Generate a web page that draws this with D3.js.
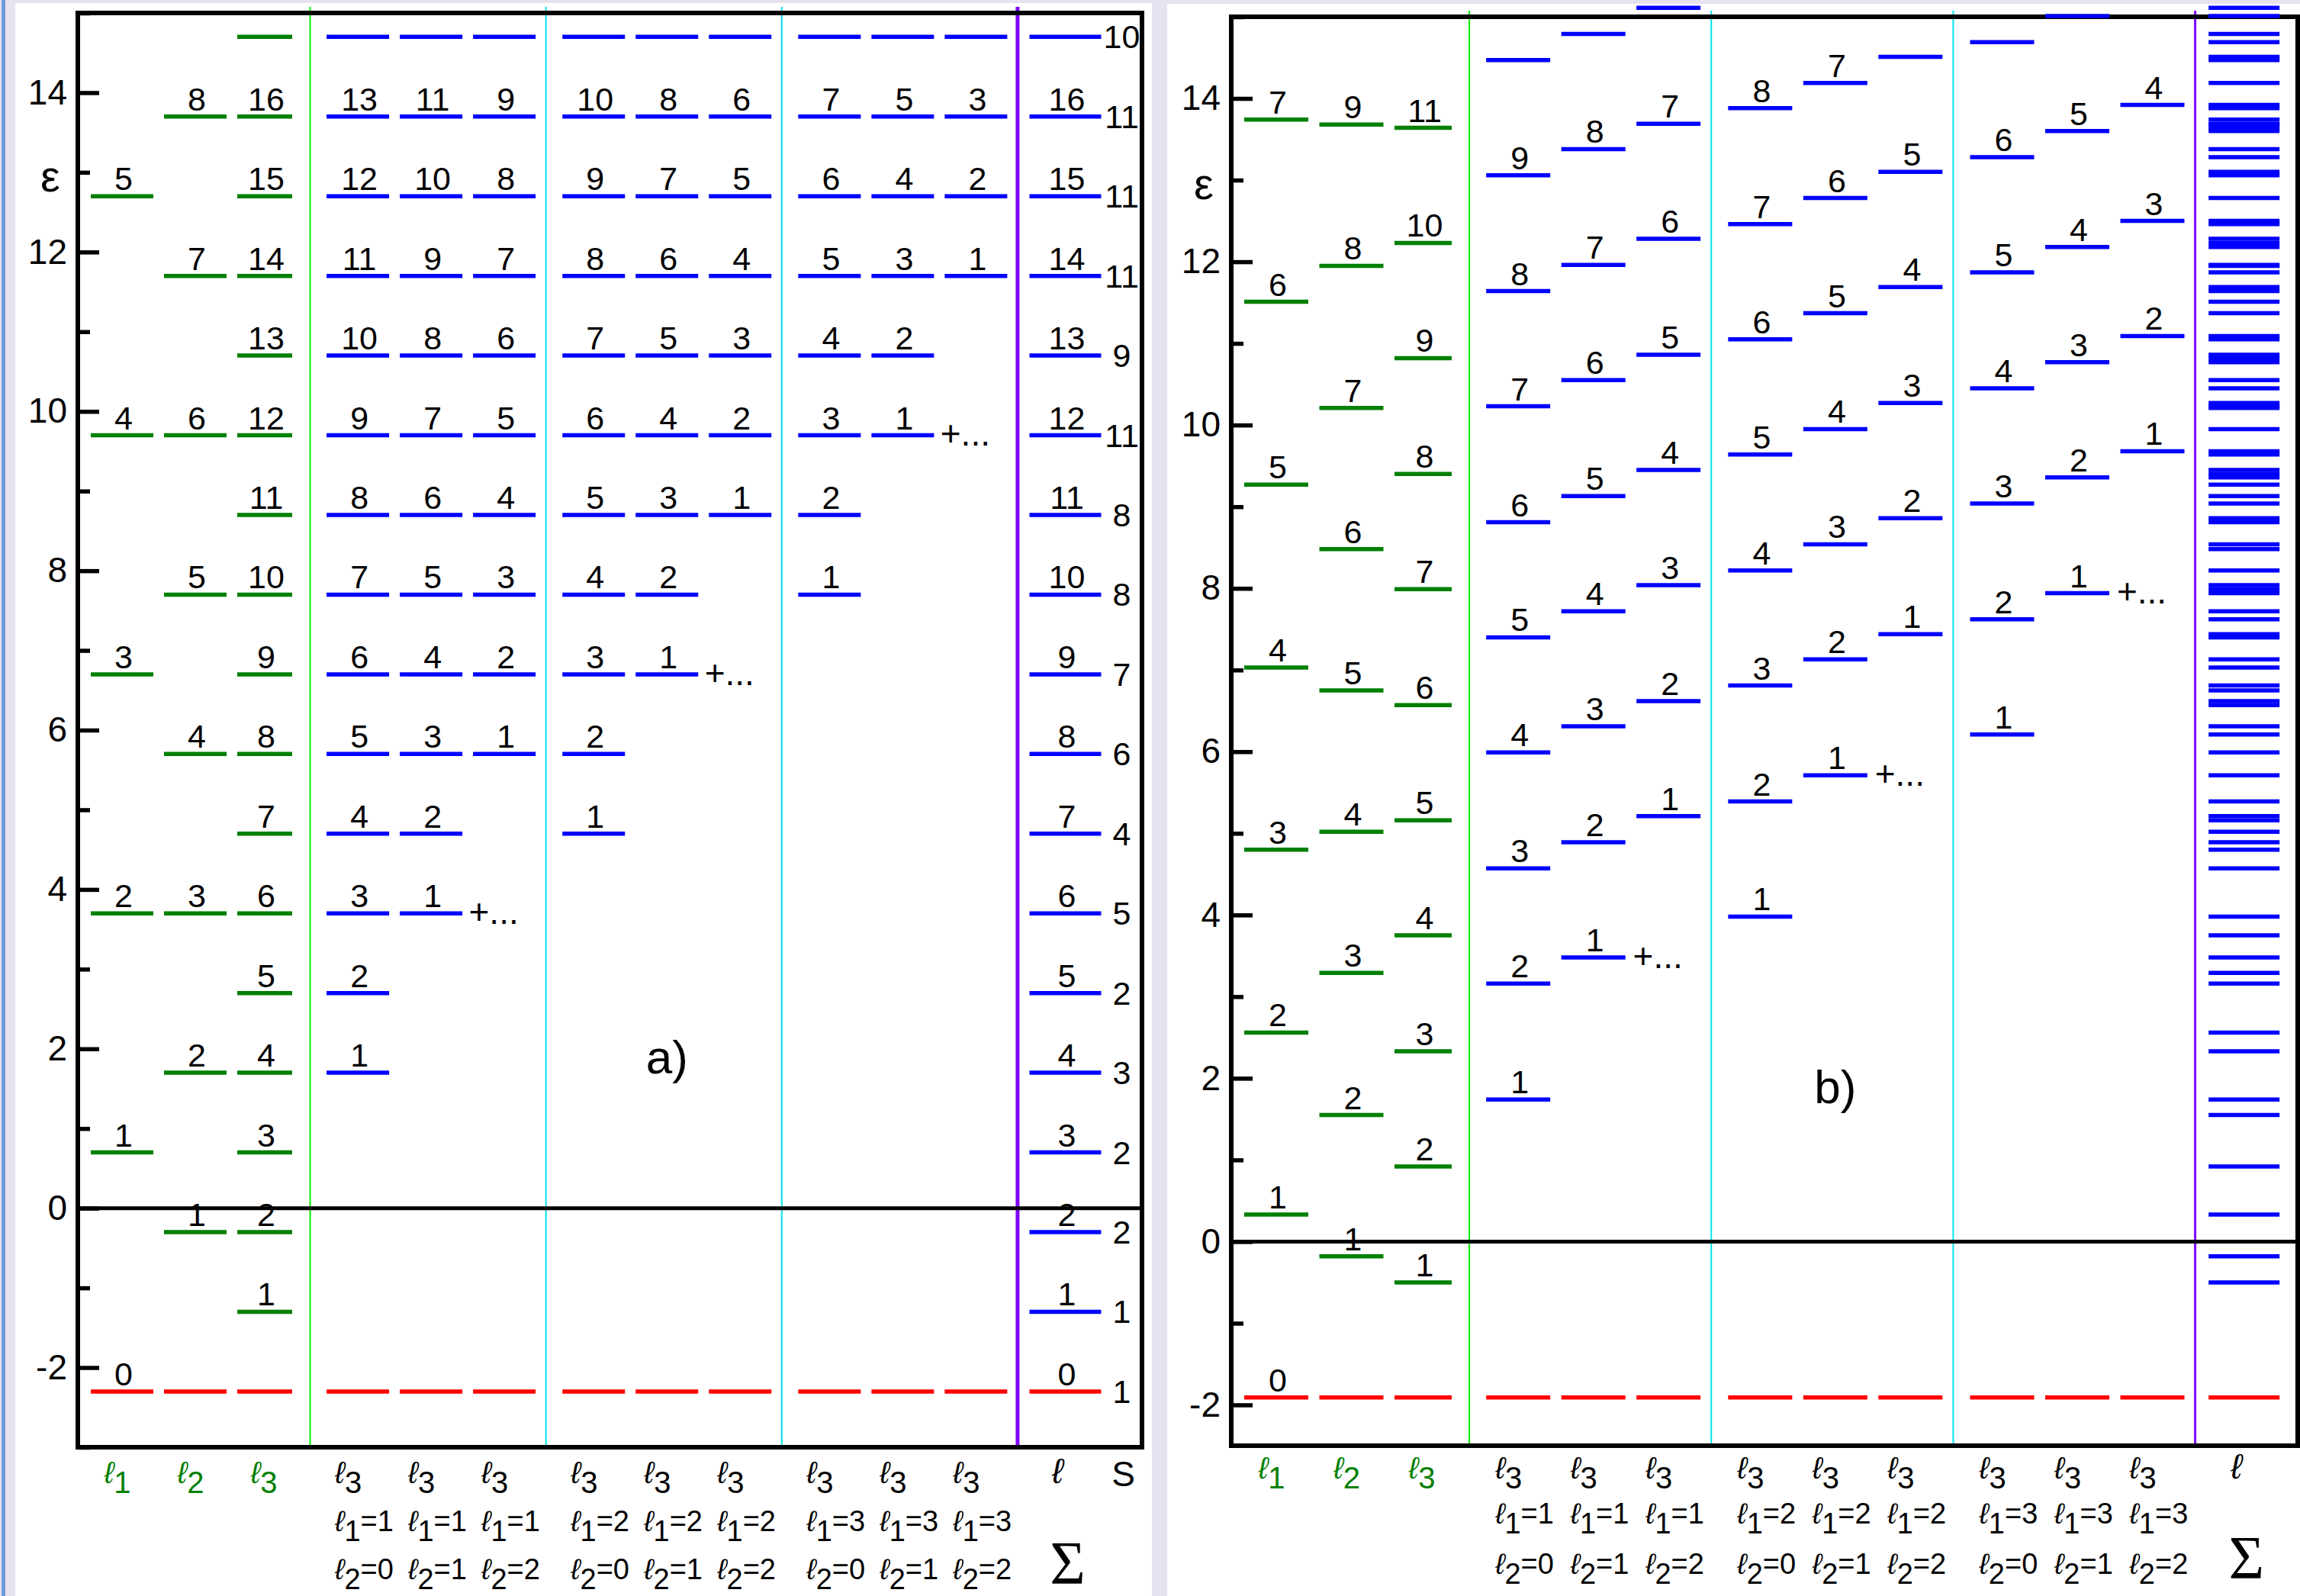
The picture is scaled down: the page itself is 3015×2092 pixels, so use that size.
<!DOCTYPE html>
<html>
<head>
<meta charset="utf-8">
<script src="https://cdn.jsdelivr.net/npm/d3@7"></script>
<style>
  body { margin: 0; background: #e6e2ef; }
  svg { display: block; font-family: "Liberation Sans", Arial, sans-serif; }
</style>
</head>
<body>
<div id="chart"></div>
<script>
// ---- panel a) : level energies per column (index 0 = ground state) ----
const aEps_l1 = [-2.3, 0.7, 3.7, 6.7, 9.7, 12.7];
const aEps_l2 = [-2.3, -0.3, 1.7, 3.7, 5.7, 7.7, 9.7, 11.7, 13.7];
const aEps_l3 = [-2.3, -1.3, -0.3, 0.7, 1.7, 2.7, 3.7, 4.7, 5.7, 6.7, 7.7, 8.7, 9.7, 10.7, 11.7, 12.7, 13.7, 14.7];
const aEps_10 = [-2.3, 1.7, 2.7, 3.7, 4.7, 5.7, 6.7, 7.7, 8.7, 9.7, 10.7, 11.7, 12.7, 13.7, 14.7];
const aEps_11 = [-2.3, 3.7, 4.7, 5.7, 6.7, 7.7, 8.7, 9.7, 10.7, 11.7, 12.7, 13.7, 14.7];
const aEps_12 = [-2.3, 5.7, 6.7, 7.7, 8.7, 9.7, 10.7, 11.7, 12.7, 13.7, 14.7];
const aEps_20 = [-2.3, 4.7, 5.7, 6.7, 7.7, 8.7, 9.7, 10.7, 11.7, 12.7, 13.7, 14.7];
const aEps_21 = [-2.3, 6.7, 7.7, 8.7, 9.7, 10.7, 11.7, 12.7, 13.7, 14.7];
const aEps_22 = [-2.3, 8.7, 9.7, 10.7, 11.7, 12.7, 13.7, 14.7];
const aEps_30 = [-2.3, 7.7, 8.7, 9.7, 10.7, 11.7, 12.7, 13.7, 14.7];
const aEps_31 = [-2.3, 9.7, 10.7, 11.7, 12.7, 13.7, 14.7];
const aEps_32 = [-2.3, 11.7, 12.7, 13.7, 14.7];
const aEps_sum = [-2.3, -1.3, -0.3, 0.7, 1.7, 2.7, 3.7, 4.7, 5.7, 6.7, 7.7, 8.7, 9.7, 10.7, 11.7, 12.7, 13.7, 14.7];
const aDegeneracy = [1, 1, 2, 2, 3, 2, 5, 4, 6, 7, 8, 8, 11, 9, 11, 11, 11, 10];

// ---- panel b) ----
const bEps_l1 = [-1.91, 0.33, 2.56, 4.80, 7.03, 9.27, 11.51, 13.74];
const bEps_l2 = [-1.91, -0.18, 1.55, 3.29, 5.02, 6.75, 8.48, 10.21, 11.95, 13.68];
const bEps_l3 = [-1.91, -0.50, 0.92, 2.33, 3.75, 5.16, 6.57, 7.99, 9.40, 10.82, 12.23, 13.64];
const bEps_10 = [-1.91, 1.74, 3.16, 4.57, 5.99, 7.40, 8.81, 10.23, 11.64, 13.06, 14.47];
const bEps_11 = [-1.91, 3.48, 4.89, 6.31, 7.72, 9.13, 10.55, 11.96, 13.38, 14.79];
const bEps_12 = [-1.91, 5.21, 6.62, 8.04, 9.45, 10.86, 12.28, 13.69, 15.11];
const bEps_20 = [-1.91, 3.98, 5.39, 6.81, 8.22, 9.64, 11.05, 12.46, 13.88];
const bEps_21 = [-1.91, 5.71, 7.13, 8.54, 9.95, 11.37, 12.78, 14.19];
const bEps_22 = [-1.91, 7.44, 8.86, 10.27, 11.69, 13.10, 14.51];
const bEps_30 = [-1.91, 6.21, 7.62, 9.04, 10.45, 11.87, 13.28, 14.69];
const bEps_31 = [-1.91, 7.94, 9.36, 10.77, 12.18, 13.60, 15.01];
const bEps_32 = [-1.91, 9.68, 11.09, 12.50, 13.92];
// the sum column of b) is every level of the other columns together
const bEps_sum = Array.from(new Set([bEps_l1, bEps_l2, bEps_l3, bEps_10, bEps_11, bEps_12,
  bEps_20, bEps_21, bEps_22, bEps_30, bEps_31, bEps_32].flat())).sort((p, q) => p - q);

// ---- column captions ----
const colSub = ['1', '2', '3', '3', '3', '3', '3', '3', '3', '3', '3', '3', ''];
const colL1 = [null, null, null, 1, 1, 1, 2, 2, 2, 3, 3, 3, null];
const colL2 = [null, null, null, 0, 1, 2, 0, 1, 2, 0, 1, 2, null];

// "+..." marks: column index and energy
const aMoreCol = [5, 8, 11];
const aMoreEps = [3.7, 6.7, 9.7];
const bMoreCol = [5, 8, 11];
const bMoreEps = [3.48, 5.71, 7.94];

const majorTicks = [-2, 0, 2, 4, 6, 8, 10, 12, 14];
const minorTicksA = [-3, -1, 1, 3, 5, 7, 9, 11, 13, 15];
const minorTicksB = [-1, 1, 3, 5, 7, 9, 11, 13, 15];

const W = 3015, H = 2092;
const GREEN = '#008000', BLUE = '#0000ff', RED = '#ff0000';

const svg = d3.select('#chart').append('svg')
  .attr('width', W).attr('height', H)
  .attr('viewBox', [0, 0, W, H]);

svg.append('rect').attr('width', W).attr('height', H).attr('fill', '#e6e2ef');
svg.append('rect').attr('x', 2).attr('y', 0).attr('width', 5).attr('height', H).attr('fill', '#6d9bd9');
svg.append('rect').attr('x', 20).attr('y', 4).attr('width', 1490).attr('height', H - 4).attr('fill', '#fff');
svg.append('rect').attr('x', 1530).attr('y', 5).attr('width', W - 1530).attr('height', H - 5).attr('fill', '#fff');

function drawPanel(cfg) {
  const g = svg.append('g');
  const y = d3.scaleLinear().domain(cfg.domain).range([cfg.bottom, cfg.top]);

  // column slot -> pixel centre (3 single columns, 3 groups of 3, sum column)
  const groupOf = i => i < 3 ? 0 : (i < 12 ? 1 + Math.floor((i - 3) / 3) : 4);
  const x = d3.scaleLinear().domain([0, 1]).range([cfg.firstCenter, cfg.firstCenter + cfg.step]);
  const cx = i => x(i + 0.22 * groupOf(i));
  const left = i => cx(i) - (i === 12 ? cfg.sumHalf : cfg.half);
  const right = i => i === 2 ? left(i) + cfg.l3Width : cx(i) + (i === 12 ? cfg.sumHalf : cfg.half);

  // separators
  const seps = [
    { a: 2, color: '#00ee00', w: 2 },
    { a: 5, color: '#00e5ee', w: 2 },
    { a: 8, color: '#00e5ee', w: 2 },
    { a: 11, color: '#8000ff', w: cfg.purpleWidth }
  ];
  g.selectAll('line.sep').data(seps).join('line')
    .attr('class', 'sep')
    .attr('x1', d => (cx(d.a) + cx(d.a + 1)) / 2 - 4)
    .attr('x2', d => (cx(d.a) + cx(d.a + 1)) / 2 - 4)
    .attr('y1', cfg.top - 8).attr('y2', cfg.bottom)
    .attr('stroke', d => d.color).attr('stroke-width', d => d.w);

  // frame and zero line
  g.append('rect')
    .attr('x', cfg.x0).attr('y', cfg.top)
    .attr('width', cfg.x1 - cfg.x0).attr('height', cfg.bottom - cfg.top)
    .attr('fill', 'none').attr('stroke', '#000').attr('stroke-width', 6);
  g.append('line')
    .attr('x1', cfg.x0).attr('x2', cfg.x1)
    .attr('y1', y(0)).attr('y2', y(0))
    .attr('stroke', '#000').attr('stroke-width', 5);

  // axis: ticks point inwards, labels outside
  const major = g.append('g').attr('transform', `translate(${cfg.x0},0)`)
    .call(d3.axisLeft(y).tickValues(majorTicks).tickSize(-28).tickPadding(14).tickFormat(d => String(d)));
  const minor = g.append('g').attr('transform', `translate(${cfg.x0},0)`)
    .call(d3.axisLeft(y).tickValues(cfg.minor).tickSize(-16).tickFormat(''));
  [major, minor].forEach(ax => {
    ax.select('.domain').remove();
    ax.selectAll('.tick line').attr('stroke', '#000').attr('stroke-width', 5.5);
  });
  major.selectAll('.tick text')
    .attr('fill', '#000')
    .style('font-size', '46px')
    .style('font-family', '"Liberation Sans", Arial, sans-serif');

  g.append('text')
    .attr('x', cfg.x0 - 36).attr('y', y(13) + 10)
    .attr('text-anchor', 'middle').attr('dominant-baseline', 'middle')
    .style('font-size', '58px')
    .text('ε');

  // levels
  cfg.columns.forEach((levels, i) => {
    const col = g.append('g');
    col.selectAll('line').data(levels).join('line')
      .attr('x1', left(i)).attr('x2', right(i))
      .attr('y1', d => y(d)).attr('y2', d => y(d))
      .attr('stroke', (d, j) => j === 0 ? RED : (i < 3 ? GREEN : BLUE))
      .attr('stroke-width', 5.5);

    if (i === 12 && !cfg.sumLabels) return;
    const labelled = levels.map((e, j) => ({ e, j }))
      .filter(d => d.e < 14.3 && (d.j > 0 || i === 0 || i === 12));
    col.selectAll('text').data(labelled).join('text')
      .attr('x', (left(i) + right(i)) / 2 + 2)
      .attr('y', d => y(d.e) - 8)
      .attr('text-anchor', 'middle')
      .style('font-size', '43px')
      .text(d => d.j);
  });

  // degeneracy column (panel a only)
  if (cfg.degeneracy) {
    g.append('g').selectAll('text').data(cfg.columns[12]).join('text')
      .attr('x', right(12) + 27)
      .attr('y', d => y(d))
      .attr('dy', '0.35em')
      .attr('text-anchor', 'middle')
      .style('font-size', '43px')
      .text((d, j) => cfg.degeneracy[j]);
  }

  // "+..." marks
  cfg.moreCol.forEach((c, k) => {
    g.append('text')
      .attr('x', cx(c) - 14).attr('y', y(cfg.moreEps[k]))
      .attr('dy', '0.3em')
      .attr('text-anchor', 'middle')
      .style('font-size', '46px')
      .text('+...');
  });

  // panel label
  g.append('text')
    .attr('x', cx(7)).attr('y', y(1.9))
    .attr('dy', '0.35em')
    .attr('text-anchor', 'middle')
    .style('font-size', '62px')
    .text(cfg.name);

  // column captions
  const ell = (t, sub, rest) => {
    t.append('tspan').style('font-style', 'italic').text('ℓ');
    if (sub) t.append('tspan').attr('dy', 13).text(sub);
    if (rest) t.append('tspan').attr('dy', -13).text(rest);
  };
  const [r1, r2, r3] = cfg.rows;
  colSub.forEach((sub, i) => {
    const green = i < 3;
    const t1 = g.append('text')
      .attr('x', green ? cx(i) - 6 : (i === 12 ? cx(i) - 10 : cx(i) - 30))
      .attr('y', r1)
      .attr('text-anchor', green || i === 12 ? 'middle' : 'start')
      .attr('fill', green ? GREEN : '#000')
      .style('font-size', i === 12 ? '46px' : '40px');
    ell(t1, sub);
    if (colL1[i] !== null) {
      const t2 = g.append('text').attr('x', cx(i) - 30).attr('y', r2).style('font-size', '38px');
      ell(t2, '1', '=' + colL1[i]);
      const t3 = g.append('text').attr('x', cx(i) - 30).attr('y', r3).style('font-size', '38px');
      ell(t3, '2', '=' + colL2[i]);
    }
  });
  g.append('text')
    .attr('x', cx(12) + 3).attr('y', r3 + 6)
    .attr('text-anchor', 'middle')
    .style('font-family', '"Liberation Serif", "Times New Roman", serif')
    .style('font-size', '80px')
    .text('Σ');
  if (cfg.degeneracy) {
    g.append('text')
      .attr('x', right(12) + 29).attr('y', r1 + 4)
      .attr('text-anchor', 'middle')
      .style('font-size', '46px')
      .text('S');
  }
}

drawPanel({
  name: 'a)', x0: 102, x1: 1497, top: 17, bottom: 1897, domain: [-3, 15],
  firstCenter: 160, step: 96, half: 41, l3Width: 72, sumHalf: 47, purpleWidth: 5,
  minor: minorTicksA, rows: [1944, 2007, 2070], sumLabels: true,
  columns: [aEps_l1, aEps_l2, aEps_l3, aEps_10, aEps_11, aEps_12, aEps_20, aEps_21, aEps_22,
    aEps_30, aEps_31, aEps_32, aEps_sum],
  degeneracy: aDegeneracy, moreCol: aMoreCol, moreEps: aMoreEps
});

drawPanel({
  name: 'b)', x0: 1614, x1: 3012, top: 22, bottom: 1895, domain: [-2.5, 15],
  firstCenter: 1673, step: 98.5, half: 42, l3Width: 75, sumHalf: 46.5, purpleWidth: 3,
  minor: minorTicksB, rows: [1938, 1997, 2063], sumLabels: false,
  columns: [bEps_l1, bEps_l2, bEps_l3, bEps_10, bEps_11, bEps_12, bEps_20, bEps_21, bEps_22,
    bEps_30, bEps_31, bEps_32, bEps_sum],
  degeneracy: null, moreCol: bMoreCol, moreEps: bMoreEps
});
</script>
</body>
</html>
